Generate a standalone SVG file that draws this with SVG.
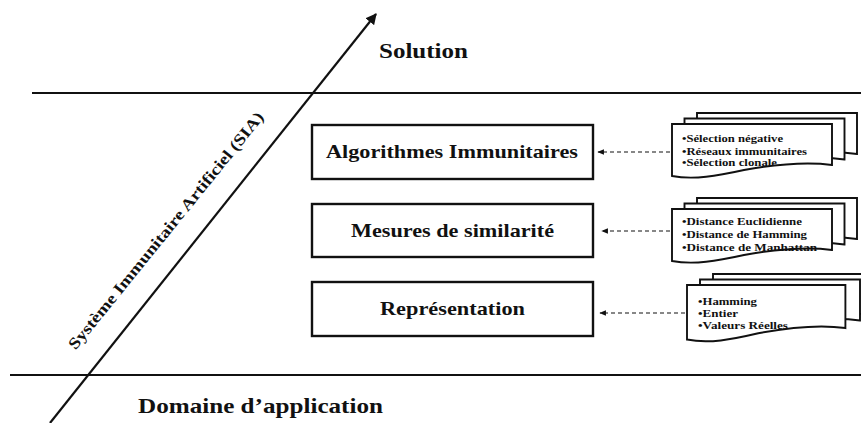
<svg xmlns="http://www.w3.org/2000/svg" xmlns:xlink="http://www.w3.org/1999/xlink" width="861" height="423" viewBox="0 0 861 423">
<style>
.t{font-family:"Liberation Serif","Times New Roman",serif;font-weight:bold;fill:#111}
.box{fill:#fff;stroke:#111;stroke-width:2.4}
.doc{fill:#fff;stroke:#111;stroke-width:1.9}
.ln{stroke:#111;stroke-width:2.2;fill:none}
.dash{stroke:#111;stroke-width:1.1;stroke-dasharray:4 3;fill:none}
.s{font-size:10px}
</style>
<defs>
<marker id="ah" viewBox="0 0 10 10" refX="9" refY="5" markerWidth="5" markerHeight="5" orient="auto" markerUnits="strokeWidth">
<path d="M0,0 L10,5 L0,10 Z" fill="#111"/>
</marker>
<marker id="ah2" viewBox="0 0 10 10" refX="9" refY="5" markerWidth="6" markerHeight="6" orient="auto" markerUnits="strokeWidth">
<path d="M0,1 L10,5 L0,9 Z" fill="#111"/>
</marker>
<path id="doc" class="doc" d="M0,0 H160 V41 C130,37 100,41 72,46 C45,52 22,56 0,52 Z"/>
</defs>

<g id="axes">
<line class="ln" x1="32" y1="93" x2="861" y2="93"/>
<line class="ln" x1="10" y1="375" x2="861" y2="375"/>
</g>

<g id="connectors">
<line class="ln" x1="50" y1="423" x2="376" y2="14" marker-end="url(#ah)"/>
<line class="dash" x1="670" y1="152" x2="598" y2="152" marker-end="url(#ah2)"/>
<line class="dash" x1="670" y1="231" x2="602" y2="231" marker-end="url(#ah2)"/>
<line class="dash" x1="685" y1="313" x2="600" y2="313" marker-end="url(#ah2)"/>
</g>

<g id="label-solution">
<text class="t" x="379" y="58" font-size="22" textLength="89" lengthAdjust="spacingAndGlyphs">Solution</text>
</g>
<g id="label-domaine">
<text class="t" x="138" y="413" font-size="21" textLength="245" lengthAdjust="spacingAndGlyphs">Domaine d’application</text>
</g>
<g id="label-sia">
<text class="t" font-size="16" text-anchor="middle" transform="translate(170,234) rotate(-51)" textLength="300" lengthAdjust="spacingAndGlyphs">Système Immunitaire Artificiel (SIA)</text>
</g>

<g id="box-algorithmes">
<rect class="box" x="312" y="125" width="281" height="54"/>
<text class="t" x="326" y="158" font-size="19" textLength="252" lengthAdjust="spacingAndGlyphs">Algorithmes  Immunitaires</text>
</g>
<g id="box-mesures">
<rect class="box" x="312" y="204" width="281" height="53"/>
<text class="t" x="351" y="237" font-size="19" textLength="203" lengthAdjust="spacingAndGlyphs">Mesures de similarité</text>
</g>
<g id="box-representation">
<rect class="box" x="312" y="282" width="281" height="54"/>
<text class="t" x="380" y="315" font-size="19" textLength="145" lengthAdjust="spacingAndGlyphs">Représentation</text>
</g>

<g id="docs-algorithmes">
<use xlink:href="#doc" href="#doc" x="697" y="113"/>
<use xlink:href="#doc" href="#doc" x="684.5" y="118.5"/>
<use xlink:href="#doc" href="#doc" x="672" y="124"/>
<text class="t s" x="682" y="142" textLength="101" lengthAdjust="spacingAndGlyphs">•Sélection négative</text>
<text class="t s" x="682" y="155" textLength="125" lengthAdjust="spacingAndGlyphs">•Réseaux immunitaires</text>
<text class="t s" x="682" y="166" textLength="95" lengthAdjust="spacingAndGlyphs">•Sélection clonale</text>
</g>

<g id="docs-mesures">
<use xlink:href="#doc" href="#doc" x="697" y="198"/>
<use xlink:href="#doc" href="#doc" x="684.5" y="203.5"/>
<use xlink:href="#doc" href="#doc" x="672" y="209"/>
<text class="t s" x="682" y="225" textLength="120" lengthAdjust="spacingAndGlyphs">•Distance Euclidienne</text>
<text class="t s" x="682" y="238" textLength="125" lengthAdjust="spacingAndGlyphs">•Distance  de Hamming</text>
<text class="t s" x="682" y="251" textLength="135" lengthAdjust="spacingAndGlyphs">•Distance  de Manhattan</text>
</g>

<g id="docs-representation">
<use xlink:href="#doc" href="#doc" x="713" y="274"/>
<use xlink:href="#doc" href="#doc" x="700" y="279.5"/>
<g transform="translate(687,285) scale(0.99,1.05)"><use xlink:href="#doc" href="#doc"/></g>
<text class="t s" x="698" y="305" textLength="59" lengthAdjust="spacingAndGlyphs">•Hamming</text>
<text class="t s" x="698" y="317" textLength="40" lengthAdjust="spacingAndGlyphs">•Entier</text>
<text class="t s" x="698" y="329" textLength="90" lengthAdjust="spacingAndGlyphs">•Valeurs Réelles</text>
</g>
</svg>
